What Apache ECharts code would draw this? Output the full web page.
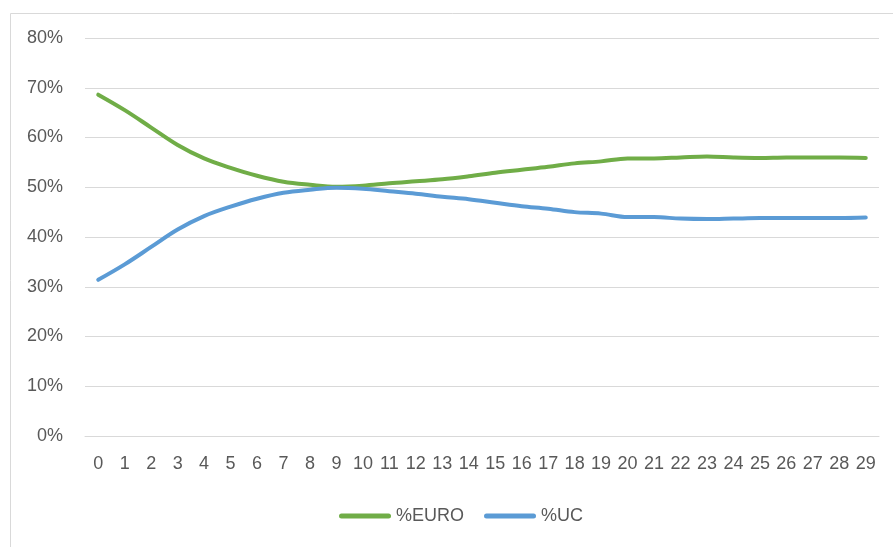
<!DOCTYPE html>
<html>
<head>
<meta charset="utf-8">
<script src="https://cdn.jsdelivr.net/npm/echarts@6/dist/echarts.min.js"></script>
<style>
html,body{margin:0;padding:0;background:#fff;}
#main{width:893px;height:547px;}
</style>
</head>
<body>
<div id="main"></div>
<script>
// x categories 0..29
var categories = ['0','1','2','3','4','5','6','7','8','9','10','11','12','13','14','15','16','17','18','19','20','21','22','23','24','25','26','27','28','29'];
// % EURO (fraction)
var euroValues = [0.686,0.655,0.620,0.585,0.558,0.539,0.523,0.511,0.505,0.501,0.503,0.508,0.512,0.516,0.522,0.529,0.535,0.541,0.548,0.552,0.558,0.558,0.560,0.562,0.560,0.559,0.560,0.560,0.560,0.559];
// % UC (fraction)
var ucValues = [0.314,0.345,0.380,0.415,0.442,0.461,0.477,0.489,0.495,0.499,0.497,0.492,0.487,0.481,0.476,0.469,0.462,0.457,0.450,0.447,0.440,0.440,0.437,0.436,0.437,0.438,0.438,0.438,0.438,0.439];
var seriesNames = ['%EURO', '%UC'];
var colors = ['#70ad47', '#5b9bd5'];

var txtColor = '#595959',
    gridColor = '#d9d9d9',
    fontFam = 'Liberation Sans, Arial, sans-serif';

var option = {
	animation: false,
	color: colors,
	graphic: [{
		// outer chart frame
		type: 'rect',
		left: 8,
		top: 11,
		shape: {width: 1000, height: 1000},
		style: {fill: 'none', stroke: gridColor, lineWidth: 1}
	}],
	grid: {
		left: 85,
		right: 14,
		top: 38,
		bottom: 111
	},
	legend: {
		bottom: 17,
		left: 334,
		itemWidth: 52,
		itemHeight: 5,
		itemGap: 20,
		icon: 'path://M2.5,0 L49.5,0 A2.5,2.5 0 0 1 49.5,5 L2.5,5 A2.5,2.5 0 0 1 2.5,0 Z',
		textStyle: {color: txtColor, fontSize: 18, fontFamily: fontFam},
		data: seriesNames
	},
	xAxis: {
		type: 'category',
		data: categories,
		boundaryGap: true,
		axisLine: {show: true, lineStyle: {color: gridColor}},
		axisTick: {show: false},
		axisLabel: {color: txtColor, fontSize: 18, fontFamily: fontFam, margin: 19, interval: 0}
	},
	yAxis: {
		type: 'value',
		min: 0,
		max: 0.8,
		interval: 0.1,
		axisLine: {show: false},
		axisTick: {show: false},
		splitLine: {lineStyle: {color: gridColor, width: 1}},
		axisLabel: {
			color: txtColor,
			fontSize: 18,
			fontFamily: fontFam,
			margin: 22,
			formatter: function(v) {
				return Math.round(v * 100) + '%';
			}
		}
	},
	series: [{
		name: seriesNames[0],
		type: 'line',
		data: euroValues,
		symbol: 'none',
		smooth: 0.35,
		lineStyle: {width: 4, color: colors[0], cap: 'round', join: 'round'}
	}, {
		name: seriesNames[1],
		type: 'line',
		data: ucValues,
		symbol: 'none',
		smooth: 0.35,
		lineStyle: {width: 4, color: colors[1], cap: 'round', join: 'round'}
	}]
};

var myChart = echarts.init(document.getElementById('main'));
myChart.setOption(option);
</script>
</body>
</html>
